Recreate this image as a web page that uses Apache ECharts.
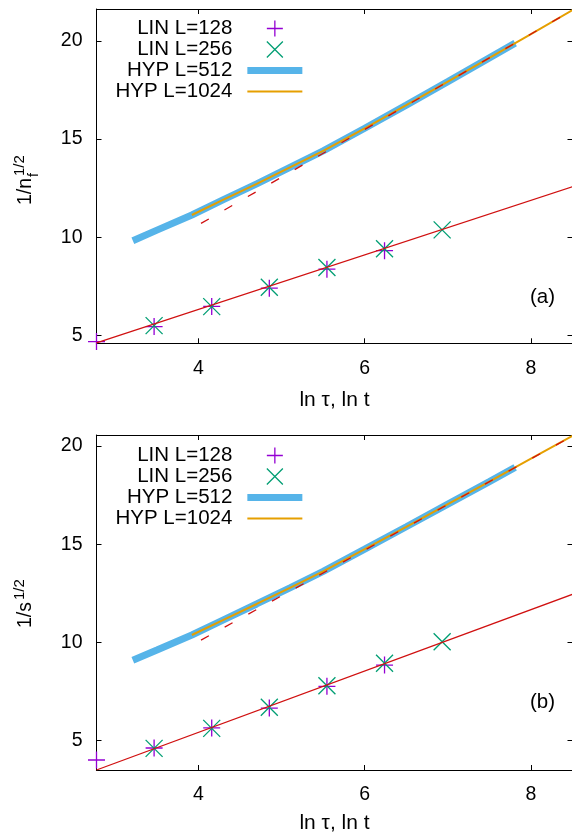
<!DOCTYPE html>
<html><head><meta charset="utf-8">
<script src="https://cdn.jsdelivr.net/npm/echarts@6/dist/echarts.min.js"></script>
<style>html,body{margin:0;padding:0;background:#fff}#c{width:572px;height:833px}</style>
</head><body><div id="c"></div>
<script>
// ---- data ----
const X_RANGE = [2.7726, 8.5];
const xTicks = [4, 6, 8];
const yTicks = [5, 10, 15, 20];
const yRangeA = [4.59, 21.63];
const yRangeB = [3.51, 20.56];

const xLin128 = [2.7726, 3.4657, 4.1589, 4.8520, 5.5452, 6.2383];
const xLin256 = [3.4657, 4.1589, 4.8520, 5.5452, 6.2383, 6.9315];
const aLin128 = [4.68, 5.44, 6.47, 7.40, 8.37, 9.31];
const aLin256 = [5.49, 6.46, 7.45, 8.45, 9.41, 10.37];
const bLin128 = [4.02, 4.63, 5.65, 6.66, 7.77, 8.85];
const bLin256 = [4.61, 5.63, 6.70, 7.80, 8.94, 10.04];

const xHyp512  = [3.21, 3.5, 3.92, 4.3, 4.7, 5.1, 5.5, 6.0, 6.5, 7.0, 7.5, 7.81];
const xHyp1024 = [3.92, 4.3, 4.7, 5.1, 5.5, 6.0, 6.5, 7.0, 7.5, 8.0, 8.5];
const aHyp512  = [9.82, 10.36, 11.13, 11.91, 12.72, 13.56, 14.40, 15.55, 16.73, 17.93, 19.14, 19.89];
const aHyp1024 = [11.13, 11.91, 12.72, 13.56, 14.40, 15.55, 16.73, 17.93, 19.14, 20.35, 21.57];
const bHyp512  = [9.10, 9.62, 10.38, 11.15, 11.96, 12.78, 13.62, 14.75, 15.89, 17.04, 18.19, 18.91];
const bHyp1024 = [10.38, 11.15, 11.96, 12.78, 13.62, 14.75, 15.89, 17.04, 18.19, 19.36, 20.52];

const xFitLin = [2.7726, 8.5];
const aFitLin = [4.61, 12.57];
const bFitLin = [3.51, 12.45];
const xFitHyp = [4.03, 8.5];
const aFitHyp = [10.70, 21.57];
const bFitHyp = [10.12, 20.51];

const names = ['LIN L=128', 'LIN L=256', 'HYP L=512', 'HYP L=1024'];

// ---- styles ----
const FONT = '"Liberation Sans", Arial, Helvetica, sans-serif';
const C_PUR = '#9400d3', C_GRN = '#009e73', C_BLU = '#56b4e9', C_ORA = '#e69f00', C_RED = '#d01010';
const FS = 19.5, FSL = 20.5;
const PLUS = 'path://M0,8L16,8M8,0L8,16';
const CROSS = 'path://M0,0L16,16M16,0L0,16';
const PLUS_L = 'path://M0,0M55,16M19.5,8L35.5,8M27.5,0L27.5,16';
const CROSS_L = 'path://M0,0M55,16M19.5,0L35.5,16M35.5,0L19.5,16';
const BAR_THICK = 'path://M0,0M55,16M0,4.5L55,4.5L55,11.5L0,11.5Z';
const BAR_THIN = 'path://M0,0M55,16M0,7L55,7L55,9L0,9Z';

function pairs(xs, ys) { return xs.map((x, i) => [x, ys[i]]); }

const grids = [
  { left: 96.5, top: 9, width: 476, height: 334.3, outerBoundsMode: 'none', containLabel: false },
  { left: 96.5, top: 435, width: 476, height: 335, outerBoundsMode: 'none', containLabel: false }
];

const xAxes = [], yAxes = [];
[0, 1].forEach(g => {
  const axLine = { show: true, lineStyle: { color: '#000', width: 1.2 } };
  xAxes.push({
    gridIndex: g, type: 'value', position: 'bottom', min: X_RANGE[0], max: X_RANGE[1],
    axisLine: axLine, splitLine: { show: false },
    axisTick: { show: true, inside: true, length: 5, customValues: xTicks, lineStyle: { color: '#000' } },
    axisLabel: { show: true, customValues: xTicks, fontSize: FS, fontFamily: FONT, color: '#000', margin: 15 },
    name: 'ln τ, ln t', nameLocation: 'middle', nameGap: g === 0 ? 46 : 43,
    nameTextStyle: { fontSize: 21, fontFamily: FONT, color: '#000' }
  });
  xAxes.push({
    gridIndex: g, type: 'value', position: 'top', min: X_RANGE[0], max: X_RANGE[1],
    axisLine: axLine, splitLine: { show: false },
    axisTick: { show: true, inside: true, length: 5, customValues: xTicks, lineStyle: { color: '#000' } },
    axisLabel: { show: false }
  });
  const yr = g === 0 ? yRangeA : yRangeB;
  yAxes.push({
    gridIndex: g, type: 'value', position: 'left', min: yr[0], max: yr[1],
    axisLine: { show: true, lineStyle: { color: '#000', width: 1 } }, splitLine: { show: false },
    axisTick: { show: true, inside: true, length: 5, customValues: yTicks, lineStyle: { color: '#000' } },
    axisLabel: { show: true, customValues: yTicks, fontSize: FS, fontFamily: FONT, color: '#000', margin: 14 }
  });
  yAxes.push({
    gridIndex: g, type: 'value', position: 'right', min: yr[0], max: yr[1],
    axisLine: { show: true, lineStyle: { color: '#000', width: 1 } }, splitLine: { show: false },
    axisTick: { show: true, inside: true, length: 5, customValues: yTicks, lineStyle: { color: '#000' } },
    axisLabel: { show: false }
  });
});

const series = [];
const panels = [
  { lin128: aLin128, lin256: aLin256, h512: aHyp512, h1024: aHyp1024, fl: aFitLin, fh: aFitHyp },
  { lin128: bLin128, lin256: bLin256, h512: bHyp512, h1024: bHyp1024, fl: bFitLin, fh: bFitHyp }
];
panels.forEach((p, g) => {
  const xi = g * 2, yi = g * 2;
  series.push({
    name: names[2], type: 'line', xAxisIndex: xi, yAxisIndex: yi, data: pairs(xHyp512, p.h512),
    symbol: 'none', lineStyle: { color: C_BLU, width: 7, cap: 'butt' }, itemStyle: { color: C_BLU }, z: 2, animation: false
  });
  series.push({
    name: names[3], type: 'line', xAxisIndex: xi, yAxisIndex: yi, data: pairs(xHyp1024, p.h1024),
    symbol: 'none', lineStyle: { color: C_ORA, width: 2 }, itemStyle: { color: C_ORA }, z: 3, animation: false
  });
  series.push({
    name: 'fitHyp' + g, type: 'line', xAxisIndex: xi, yAxisIndex: yi, data: pairs(xFitHyp, p.fh),
    symbol: 'none', lineStyle: { color: C_RED, width: 1.3, type: [9, 18] }, z: 4, animation: false, silent: true
  });
  series.push({
    name: names[0], type: 'scatter', xAxisIndex: xi, yAxisIndex: yi, data: pairs(xLin128, p.lin128),
    symbol: PLUS, symbolSize: 17, clip: false,
    itemStyle: { color: 'rgba(0,0,0,0)', borderColor: C_PUR, borderWidth: 1.3, opacity: 1 }, z: 5, animation: false
  });
  series.push({
    name: names[1], type: 'scatter', xAxisIndex: xi, yAxisIndex: yi, data: pairs(xLin256, p.lin256),
    symbol: CROSS, symbolSize: 17, clip: false,
    itemStyle: { color: 'rgba(0,0,0,0)', borderColor: C_GRN, borderWidth: 1.3, opacity: 1 }, z: 5, animation: false
  });
  series.push({
    name: 'fitLin' + g, type: 'line', xAxisIndex: xi, yAxisIndex: yi, data: pairs(xFitLin, p.fl),
    symbol: 'none', lineStyle: { color: C_RED, width: 1.3 }, z: 6, animation: false, silent: true
  });
});

function legendAt(top) {
  return {
    right: 264, top: top, orient: 'vertical', align: 'right',
    itemWidth: 55, itemHeight: 16, itemGap: 0,
    textStyle: { fontSize: FSL, lineHeight: 20, fontFamily: FONT, color: '#000', padding: [0, 10, 0, 0] },
    selectedMode: false,
    data: [
      { name: names[0], icon: PLUS_L, itemStyle: { color: 'rgba(0,0,0,0)', borderColor: C_PUR, borderWidth: 1.3 } },
      { name: names[1], icon: CROSS_L, itemStyle: { color: 'rgba(0,0,0,0)', borderColor: C_GRN, borderWidth: 1.3 } },
      { name: names[2], icon: BAR_THICK, itemStyle: { color: C_BLU, borderWidth: 0 } },
      { name: names[3], icon: BAR_THIN, itemStyle: { color: C_ORA, borderWidth: 0 } }
    ]
  };
}

function yTitle(x, yStart, main, sub, sup) {
  const children = [
    { type: 'text', x: 0, y: 0, style: { text: main, font: '19.5px ' + FONT, fill: '#000', verticalAlign: 'bottom', align: 'left' } }
  ];
  const w = main === '1/n' ? 27 : 26;
  if (sub) children.push({ type: 'text', x: w + 1, y: 5, style: { text: sub, font: '14px ' + FONT, fill: '#000', verticalAlign: 'bottom', align: 'left' } });
  children.push({ type: 'text', x: w + 2, y: -9, style: { text: sup, font: '15px ' + FONT, fill: '#000', verticalAlign: 'bottom', align: 'left' } });
  return { type: 'group', x: x, y: yStart, rotation: Math.PI / 2, children: children };
}

const option = {
  animation: false,
  backgroundColor: '#fff',
  grid: grids,
  xAxis: xAxes,
  yAxis: yAxes,
  legend: [legendAt(13), legendAt(440)],
  series: series,
  graphic: [
    yTitle(36, 205, '1/n', 'f', '1/2'),
    yTitle(36, 628, '1/s', null, '1/2'),
    { type: 'text', left: 530, top: 287, style: { text: '(a)', font: '20.5px ' + FONT, fill: '#000' } },
    { type: 'text', left: 530, top: 692, style: { text: '(b)', font: '20.5px ' + FONT, fill: '#000' } }
  ]
};

const chart = echarts.init(document.getElementById('c'), null, { renderer: 'canvas' });
chart.setOption(option);
</script>
</body></html>
